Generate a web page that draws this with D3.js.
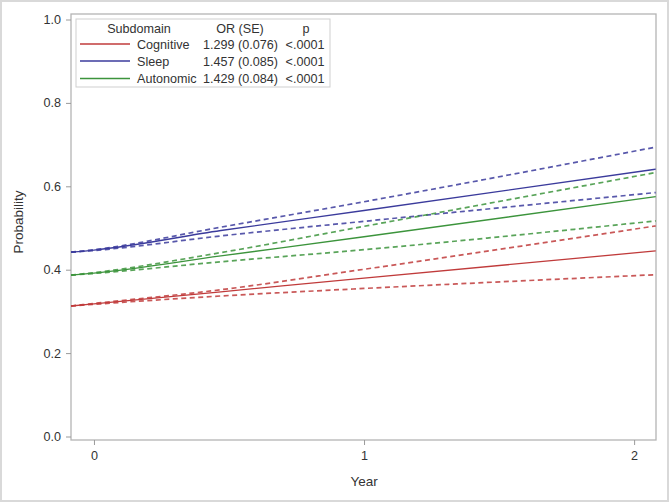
<!DOCTYPE html>
<html>
<head>
<meta charset="utf-8">
<script src="https://cdn.jsdelivr.net/npm/d3@7"></script>
<style>
  body { margin: 0; background: #fff; }
  text { font-family: Arial, "Liberation Sans", sans-serif; fill: #333; }
</style>
</head>
<body>
<div id="chart"></div>
<script>
var width = 669
var height = 502

// years the curves were read at (frame edges, year 0, mid and year 1)
var years = [-0.085, 0, 0.47, 1, 2.08]

var subdomains = ['Cognitive', 'Sleep', 'Autonomic']
var orText = ['1.299 (0.076)', '1.457 (0.085)', '1.429 (0.084)']
var pText = ['<.0001', '<.0001', '<.0001']
var colors = ['#c03b3b', '#3b3b9c', '#3c943c']

var cognitiveEst = [0.313, 0.318, 0.347, 0.380, 0.445]
var cognitiveLow = [0.313, 0.317, 0.337, 0.355, 0.388]
var cognitiveUp = [0.313, 0.319, 0.352, 0.401, 0.505]

var sleepEst = [0.442, 0.447, 0.494, 0.542, 0.641]
var sleepLow = [0.442, 0.446, 0.481, 0.516, 0.585]
var sleepUp = [0.442, 0.448, 0.502, 0.563, 0.694]

var autoEst = [0.387, 0.392, 0.433, 0.479, 0.575]
var autoLow = [0.387, 0.391, 0.419, 0.448, 0.517]
var autoUp = [0.387, 0.393, 0.441, 0.504, 0.633]

var xTicks = [0, 1, 2]
var yTicks = [0, 0.2, 0.4, 0.6, 0.8, 1.0]

var svg = d3.select('#chart')
  .append('svg')
  .attr('width', width)
  .attr('height', height)

// outer border of the image
svg.append('rect')
  .attr('x', 1).attr('y', 1)
  .attr('width', width - 2).attr('height', height - 2)
  .attr('fill', '#fff')
  .attr('stroke', '#d9d9d9')
  .attr('stroke-width', 2)

var x = d3.scaleLinear().domain([-0.085, 2.081]).range([71, 656])
var y = d3.scaleLinear().domain([0, 1]).range([436.5, 19.5])

var frameTop = 14, frameBottom = 440

svg.append('rect')
  .attr('x', 71).attr('y', frameTop)
  .attr('width', 656 - 71).attr('height', frameBottom - frameTop)
  .attr('fill', 'none')
  .attr('stroke', '#b4b4b4')
  .attr('stroke-width', 1.3)

var xAxis = svg.append('g')
  .attr('transform', 'translate(0,' + frameBottom + ')')
  .call(d3.axisBottom(x).tickValues(xTicks).tickFormat(d3.format('d')).tickSize(5).tickPadding(6))
xAxis.select('.domain').remove()

var yAxis = svg.append('g')
  .attr('transform', 'translate(71,0)')
  .call(d3.axisLeft(y).tickValues(yTicks).tickFormat(d3.format('.1f')).tickSize(5).tickPadding(5))
yAxis.select('.domain').remove()

svg.selectAll('.tick line').attr('stroke', '#9a9a9a')
svg.selectAll('.tick text')
  .style('font-size', '12.6px')
  .attr('fill', '#333')
  .style('font-family', 'Arial, "Liberation Sans", sans-serif')

svg.append('text')
  .attr('x', x(1))
  .attr('y', 486)
  .attr('text-anchor', 'middle')
  .style('font-size', '13.5px')
  .text('Year')

svg.append('text')
  .attr('transform', 'translate(23,222) rotate(-90)')
  .attr('text-anchor', 'middle')
  .style('font-size', '13.5px')
  .text('Probability')

var series = [
  { name: 'Cognitive', est: cognitiveEst, low: cognitiveLow, up: cognitiveUp },
  { name: 'Sleep', est: sleepEst, low: sleepLow, up: sleepUp },
  { name: 'Autonomic', est: autoEst, low: autoLow, up: autoUp }
]

var line = d3.line()
  .curve(d3.curveMonotoneX)
  .x(function(d) { return x(d[0]); })
  .y(function(d) { return y(d[1]); })

var plot = svg.append('g')

series.forEach(function(s, i) {
  ['low', 'up'].forEach(function(k) {
    plot.append('path')
      .datum(d3.zip(years, s[k]))
      .attr('d', line)
      .attr('fill', 'none')
      .attr('stroke', colors[i])
      .attr('stroke-opacity', 0.85)
      .attr('stroke-width', 1.7)
      .attr('stroke-dasharray', '5,3.5')
  })
  plot.append('path')
    .datum(d3.zip(years, s.est))
    .attr('d', line)
    .attr('fill', 'none')
    .attr('stroke', colors[i])
    .attr('stroke-width', 1.3)
})

// legend
var legend = svg.append('g')

legend.append('rect')
  .attr('x', 76).attr('y', 19)
  .attr('width', 254).attr('height', 68)
  .attr('fill', '#fff')
  .attr('stroke', '#cfcfcf')
  .attr('stroke-width', 1)

var header = [['Subdomain', 139], ['OR (SE)', 240], ['p', 306]]
header.forEach(function(h) {
  legend.append('text')
    .attr('x', h[1]).attr('y', 33)
    .attr('text-anchor', 'middle')
    .style('font-size', '12.6px')
    .text(h[0])
})

var rowY = [44, 61, 78.5]
subdomains.forEach(function(name, i) {
  legend.append('line')
    .attr('x1', 80).attr('x2', 130)
    .attr('y1', rowY[i]).attr('y2', rowY[i])
    .attr('stroke', colors[i])
    .attr('stroke-width', 1.3)
  legend.append('text')
    .attr('x', 137).attr('y', rowY[i] + 4.5)
    .style('font-size', '12.6px')
    .text(name)
  legend.append('text')
    .attr('x', 240.5).attr('y', rowY[i] + 4.5)
    .attr('text-anchor', 'middle')
    .style('font-size', '12.6px')
    .text(orText[i])
  legend.append('text')
    .attr('x', 305).attr('y', rowY[i] + 4.5)
    .attr('text-anchor', 'middle')
    .style('font-size', '12.6px')
    .text(pText[i])
})
</script>
</body>
</html>
